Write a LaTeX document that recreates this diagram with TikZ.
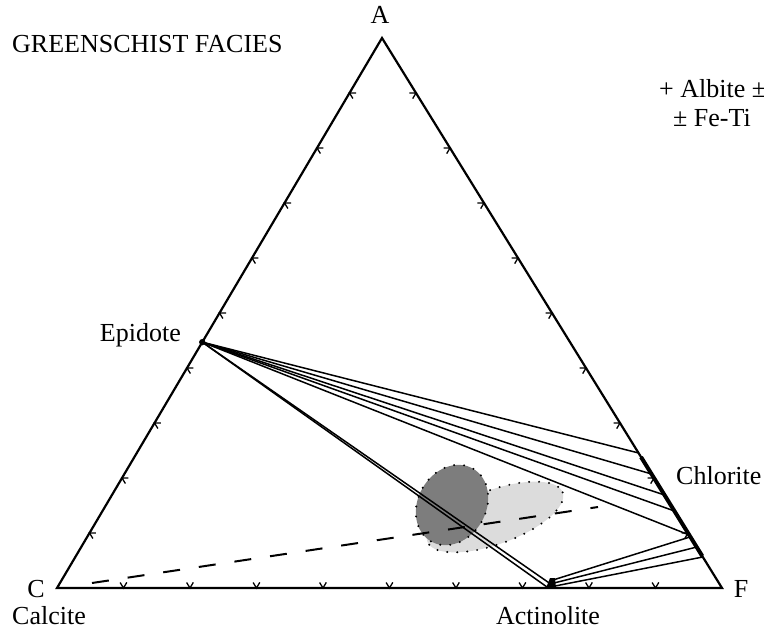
\documentclass[tikz,border=0pt]{standalone}
\usepackage{fontspec}
\setmainfont{Liberation Serif}
\usetikzlibrary{calc}
\definecolor{darkell}{RGB}{125,125,125}
\definecolor{lightell}{RGB}{220,220,220}
\begin{document}
\begin{tikzpicture}[x=1pt,y=-1pt,
  edge/.style={line width=2.2pt,line join=miter},
  tickmark/.style={line width=1.3pt},
  tie/.style={line width=1.5pt},
  dotline/.style={line width=2.2pt,dash pattern=on 0pt off 10pt,line cap=round},
  lbl/.style={font=\fontsize{26}{30}\selectfont,inner sep=0pt}]
\useasboundingbox (0,0) rectangle (764,630);
% vertices
\coordinate (A) at (382,38);
\coordinate (C) at (57,588);
\coordinate (F) at (722,588);
\coordinate (E) at ($(C)!0.447!(A)$);
\coordinate (X1) at (547,587);
\coordinate (X2) at (555,587);
% ellipses
\fill[lightell] (495,517) ellipse[x radius=72,y radius=27,rotate=20];
\draw[dotline] (495,517) ellipse[x radius=72,y radius=27,rotate=20];
\fill[darkell] (452,505) ellipse[x radius=34,y radius=42,rotate=-30];
\draw[dotline] (452,505) ellipse[x radius=34,y radius=42,rotate=-30];
% triangle
\draw[edge] (A) -- (F) -- (C) -- cycle;
% ticks
\foreach \k in {1,...,9}{
  \coordinate (pl) at ($(C)!\k/10!(A)$);
  \draw[tickmark] ($(pl)+(6.5,0)$) -- (pl) -- ($(pl)+(3.4,5.5)$);
  \coordinate (pr) at ($(A)!\k/10!(F)$);
  \draw[tickmark] ($(pr)+(-6.5,0)$) -- (pr) -- ($(pr)+(-3.3,5.6)$);
  \coordinate (pb) at ($(C)!\k/10!(F)$);
  \draw[tickmark] ($(pb)+(3.3,-5.6)$) -- (pb) -- ($(pb)+(-3.4,-5.5)$);
}
% dashed line
\coordinate (D1) at (92,583);
\coordinate (D2) at (598,507);
\draw[line width=2pt,dash pattern=on 17pt off 19pt] (D1) -- (D2);
% chlorite band
\coordinate (Ch0) at ($(A)!0.762!(F)$);
\coordinate (Ch1) at ($(A)!0.942!(F)$);
\draw[line width=4pt] (Ch0) -- (Ch1);
% tie lines from epidote
\foreach \t [count=\i] in {0.7545,0.7927,0.8309,0.86,0.9036}{
  \coordinate (T\i) at ($(A)!\t!(F)$);
  \draw[tie] (E) -- (T\i);
}
\draw[tie] (E) -- (X1);
\draw[tie] (E) -- (X2);
% tie lines from actinolite
\coordinate (S1) at (553,580);
\coordinate (S2) at (554,583);
\coordinate (S3) at (555,586);
\coordinate (U1) at ($(A)!0.907!(F)$);
\coordinate (U2) at ($(A)!0.9255!(F)$);
\coordinate (U3) at ($(A)!0.9436!(F)$);
\draw[tie] (S1) -- (U1);
\draw[tie] (S2) -- (U2);
\draw[tie] (S3) -- (U3);
% actinolite blob and epidote dot
\fill (546,588) -- (556,588) -- (555,578) -- (550,578) -- cycle;
\fill (E) circle (3.2);
% labels
\node[lbl,anchor=base] (lA) at (380,23) {A};
\node[lbl,anchor=base west] (title) at (12,52) {GREENSCHIST FACIES};
\node[lbl,anchor=base west] (alb) at (659,97) {+ Albite ±};
\node[lbl,anchor=base west] (fet) at (673,126) {± Fe-Ti};
\node[lbl,anchor=base east] (lEp) at (181,341) {Epidote};
\node[lbl,anchor=base west] (lCh) at (676,484) {Chlorite};
\node[lbl,anchor=base] (lC) at (36,597) {C};
\node[lbl,anchor=base] (lF) at (741,597) {F};
\node[lbl,anchor=base west] (lCa) at (12,624) {Calcite};
\node[lbl,anchor=base] (lAc) at (548,624) {Actinolite};
\end{tikzpicture}
\end{document}
